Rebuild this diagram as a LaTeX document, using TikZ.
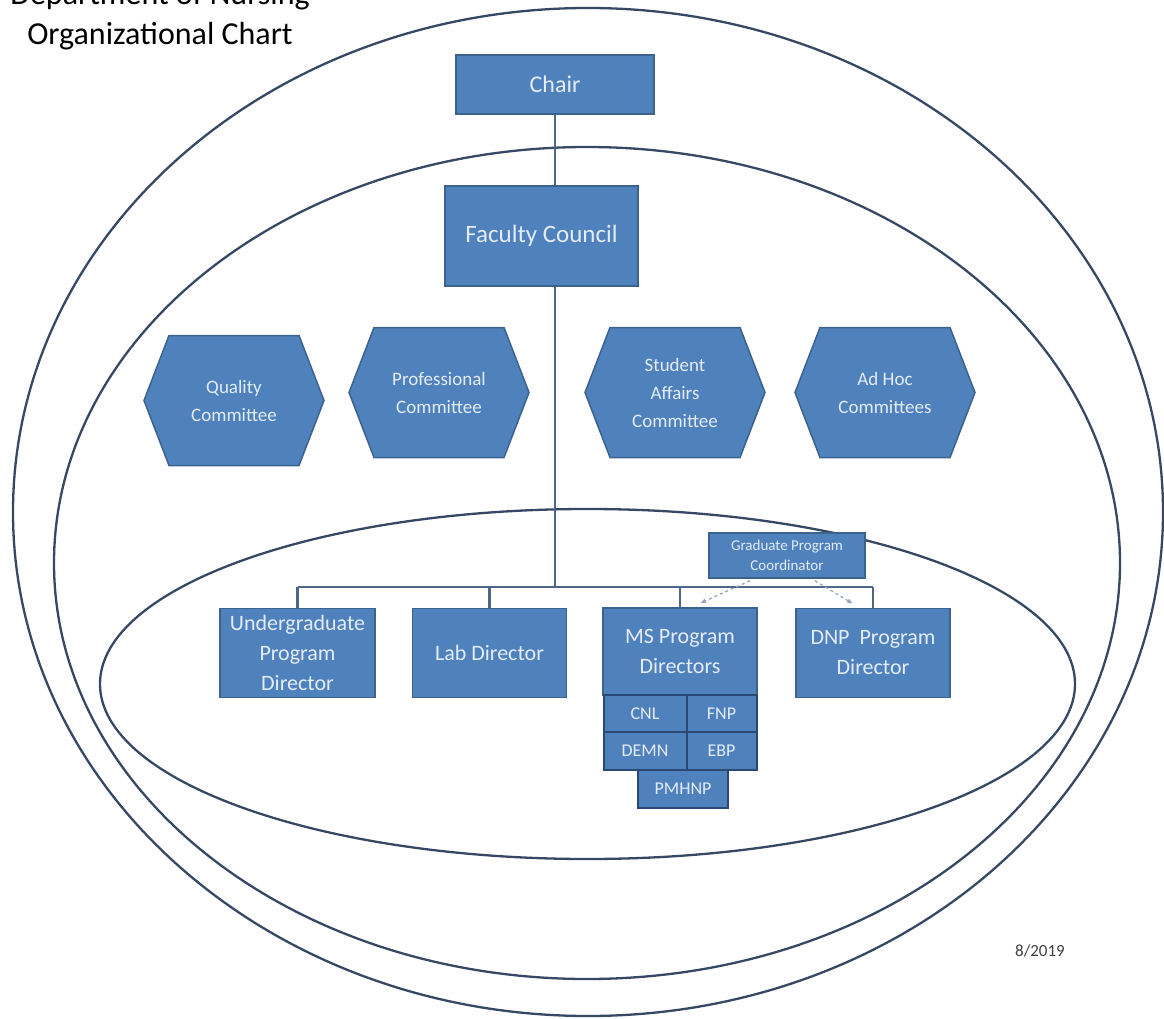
\documentclass[tikz,border=0pt]{standalone}
\usepackage{fontspec}
\setmainfont{Carlito}
\usetikzlibrary{calc,arrows.meta}
\definecolor{boxfill}{RGB}{79,129,189}
\definecolor{boxline}{RGB}{60,98,142}
\definecolor{subline}{RGB}{42,72,115}
\definecolor{ringcol}{RGB}{55,72,100}
\definecolor{conncol}{RGB}{78,102,135}
\definecolor{dashcol}{RGB}{150,165,188}
\definecolor{txtcol}{RGB}{228,236,248}
\newcommand{\hexa}[4]{%
  \filldraw[hexshape] ({#2-90},#3) -- ({#2-65},{#3-65}) -- ({#2+65},{#3-65}) -- ({#2+90},#3) -- ({#2+65},{#3+65}) -- ({#2-65},{#3+65}) -- cycle;
  \node[hextext] (#1) at (#2,#3) {#4};}
\begin{document}
\begin{tikzpicture}[x=1pt,y=-1pt,
  ring/.style={draw=ringcol, line width=2.3pt},
  conn/.style={draw=conncol, line width=2.2pt},
  dasharrow/.style={draw=dashcol, line width=1.3pt, dashed, -{Latex[length=6pt,width=5pt]}},
  box/.style={draw=boxline, fill=boxfill, line width=1.5pt, text=txtcol, align=center, inner sep=0pt},
  subbox/.style={box, draw=subline, line width=2pt, font=\fontsize{18}{20}\selectfont},
  hexshape/.style={draw=boxline, fill=boxfill, line width=1.5pt},
  hextext/.style={text=txtcol, align=center, inner sep=0pt, font=\fontsize{19}{28}\selectfont},
  titletext/.style={text=black, anchor=base, inner sep=0pt, font=\fontsize{32}{38}\selectfont}
]
\useasboundingbox (0,0) rectangle (1164,1019);
\clip (0,0) rectangle (1164,1019);

% rings
\draw[ring] (588,512) ellipse [x radius=575pt, y radius=504pt];
\draw[ring] (587,563) ellipse [x radius=533pt, y radius=416pt];
\draw[ring] (587.5,684) ellipse [x radius=487.5pt, y radius=175pt];

% title
\node[titletext] (t1) at (160,5) {Department of Nursing};
\node[titletext] (t2) at (160,45) {Organizational Chart};

% top boxes
\node[box, minimum width=198pt, minimum height=59pt, font=\fontsize{24}{28}\selectfont] (chair) at (555,84.5) {Chair};
\node[box, minimum width=193pt, minimum height=100pt, font=\fontsize{25}{30}\selectfont] (fc) at (541.5,236) {Faculty Council};

% committees
\hexa{qc}{234}{400.5}{Quality\\Committee}
\hexa{pc}{439}{392.5}{Professional\\Committee}
\hexa{sac}{675}{392.5}{Student\\Affairs\\Committee}
\hexa{ahc}{885}{392.5}{Ad Hoc\\Committees}

% bottom boxes
\node[box, minimum width=155pt, minimum height=89pt, font=\fontsize{22}{30}\selectfont] (ug) at (297.5,653) {Undergraduate\\Program\\Director};
\node[box, minimum width=154pt, minimum height=89pt, font=\fontsize{22}{30}\selectfont] (lab) at (489.5,653) {Lab Director};
\node[box, minimum width=154pt, minimum height=87pt, font=\fontsize{22}{30}\selectfont] (ms) at (680,651.5) {MS Program\\Directors};
\node[box, minimum width=154pt, minimum height=89pt, font=\fontsize{22}{30}\selectfont] (dnp) at (873,653) {DNP\ \ Program\\Director};

\node[subbox, minimum width=83pt, minimum height=37pt] (cnl) at (645,713.5) {CNL};
\node[subbox, minimum width=70pt, minimum height=37pt] (fnp) at (721.5,713.5) {FNP};
\node[subbox, minimum width=83pt, minimum height=38pt] (demn) at (645,751) {DEMN};
\node[subbox, minimum width=70pt, minimum height=38pt] (ebp) at (721.5,751) {EBP};
\node[subbox, minimum width=90pt, minimum height=38pt] (pmhnp) at (683,789) {PMHNP};

% connectors
\coordinate (barM) at (555,587);
\coordinate (barL) at (297.5,587);
\coordinate (barR) at (873,587);
\draw[conn] (chair.south) -- (chair.south |- fc.north);
\draw[conn] (fc.south -| barM) -- (barM);
\draw[conn] (barL) -- (barR);
\draw[conn] (barL) -- (ug.north);
\draw[conn] (lab.north |- barM) -- (lab.north);
\draw[conn] (ms.north |- barM) -- (ms.north);
\draw[conn] (barR) -- (dnp.north);

% coordinator
\node[box, minimum width=156pt, minimum height=45pt, font=\fontsize{15}{20}\selectfont] (coord) at (787,555.5) {Graduate Program\\Coordinator};
\draw[dasharrow] ($(coord.south)+(-37,2)$) -- ($(ms.north)+(20,-4)$);
\draw[dasharrow] ($(coord.south)+(28,2)$) -- ($(dnp.north)+(-20,-4)$);

% date
\node[text=black!75, inner sep=0pt, font=\fontsize{17}{20}\selectfont] (date) at (1040,951) {8/2019};
\end{tikzpicture}
\end{document}
